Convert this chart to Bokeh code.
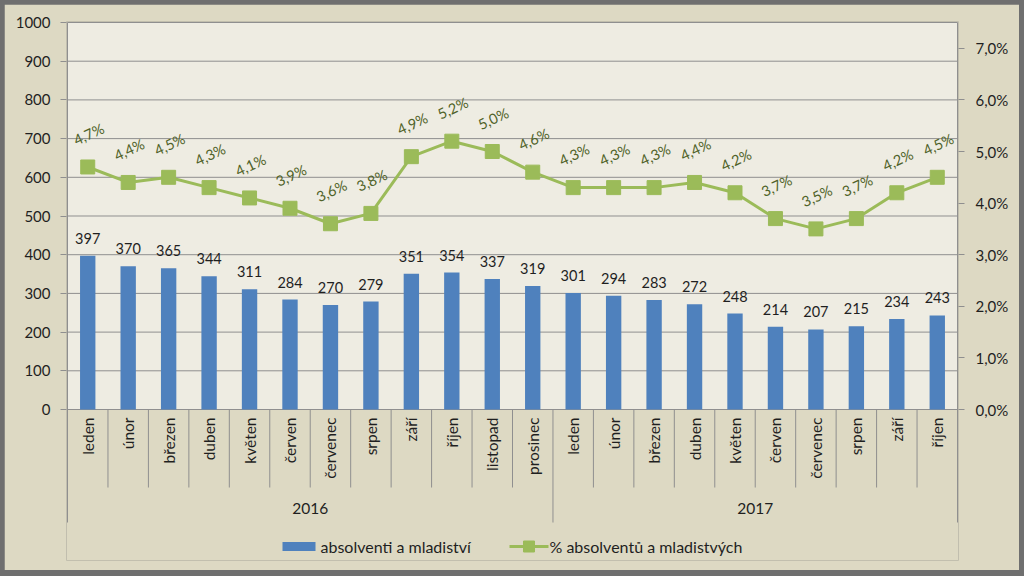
from math import pi, radians

from bokeh.plotting import figure
from bokeh.models import (Range1d, LinearAxis, FixedTicker, CustomJSTickFormatter,
                          ColumnDataSource)
from bokeh.layouts import column
from bokeh.embed import file_html
from bokeh.resources import INLINE
from bokeh.core.properties import value

# ---------------- data ----------------
years = ["2016", "2017"]
months_2016 = ["leden", "únor", "březen", "duben", "květen", "červen",
               "červenec", "srpen", "září", "říjen", "listopad", "prosinec"]
months_2017 = ["leden", "únor", "březen", "duben", "květen", "červen",
               "červenec", "srpen", "září", "říjen"]
counts_2016 = [397, 370, 365, 344, 311, 284, 270, 279, 351, 354, 337, 319]
counts_2017 = [301, 294, 283, 272, 248, 214, 207, 215, 234, 243]
pct_2016 = [4.7, 4.4, 4.5, 4.3, 4.1, 3.9, 3.6, 3.8, 4.9, 5.2, 5.0, 4.6]
pct_2017 = [4.3, 4.3, 4.3, 4.4, 4.2, 3.7, 3.5, 3.7, 4.2, 4.5]
left_ticks = [0, 100, 200, 300, 400, 500, 600, 700, 800, 900, 1000]
right_ticks = [0, 1, 2, 3, 4, 5, 6, 7]
bar_name = "absolventi a mladiství"
line_name = "% absolventů a mladistvých"

# ---------------- styling / geometry ----------------
FONT = "Lato"
TXT = "#1f1f1f"
BEIGE = "#ddd9c3"
PLOT_BG = "#eeece2"
GRID = "#8f8f8f"
BLUE = "#4f81bd"
GREEN = "#9bbb59"
DKGREEN = "#4f6228"

W, H = 1015, 566          # figure size (placed at page offset 4,4)
OFF_X, OFF_Y = 4, 4
PL, PR, PT, P0 = 67, 957, 22, 409   # plot area (page px): left, right, top(=1000), zero
FRAME_BOTTOM = 560
PCT_MAX = 7.5
VAL_MAX = 1000

months = months_2016 + months_2017
counts = counts_2016 + counts_2017
pcts = pct_2016 + pct_2017
n = len(months)
n16 = len(months_2016)
xs = [i + 0.5 for i in range(n)]

px_per_unit = (P0 - PT) / VAL_MAX
cat_px = (PR - PL) / n
pad_x = 1 / cat_px
ymax = VAL_MAX + 1 / px_per_unit
frame_top_page = PT - 1
ymin = ymax - (FRAME_BOTTOM - frame_top_page) / px_per_unit
k = PCT_MAX / VAL_MAX


def yv(page_y):
    return (P0 - page_y) / px_per_unit


def xv(page_x):
    return (page_x - PL) / cat_px


p = figure(width=W, height=H, output_backend="svg", toolbar_location=None, tools="",
           x_range=Range1d(-pad_x, n + pad_x), y_range=Range1d(ymin, ymax),
           x_axis_location=None, min_border_left=PL - 1 - OFF_X,
           min_border_right=W - (PR + 1 - OFF_X), min_border_top=frame_top_page - OFF_Y,
           min_border_bottom=H - (FRAME_BOTTOM - OFF_Y))
p.extra_y_ranges = {"pct": Range1d(ymin * k, ymax * k)}
p.background_fill_color = BEIGE
p.border_fill_color = BEIGE
p.outline_line_color = None
p.xgrid.visible = False
p.ygrid.visible = False

# left axis
ya = p.yaxis[0]
ya.ticker = FixedTicker(ticks=left_ticks)
ya.axis_line_color = None
ya.major_tick_in = 0
ya.major_tick_out = 6
ya.major_tick_line_color = GRID
ya.minor_tick_line_color = None
ya.major_label_text_font = FONT
ya.major_label_text_font_size = "15px"
ya.major_label_text_color = TXT
ya.major_label_standoff = 10

# right axis
ra = LinearAxis(y_range_name="pct", ticker=FixedTicker(ticks=right_ticks),
                formatter=CustomJSTickFormatter(code="return tick.toFixed(1).replace('.', ',') + '%';"))
ra.axis_line_color = None
ra.major_tick_in = 0
ra.major_tick_out = 6
ra.major_tick_line_color = GRID
ra.minor_tick_line_color = None
ra.major_label_text_font = FONT
ra.major_label_text_font_size = "15px"
ra.major_label_text_color = TXT
ra.major_label_standoff = 11
p.add_layout(ra, "right")

# plot area background and grid lines
p.quad(left=[0], right=[n], bottom=[0], top=[VAL_MAX], fill_color=PLOT_BG, line_color=None)
p.segment(x0=[0] * len(left_ticks), x1=[n] * len(left_ticks), y0=left_ticks, y1=left_ticks,
          line_color=GRID, line_width=1)

# category-axis separators / plot borders
short_x = [i for i in range(1, n) if i != n16]
y_short = yv(487)
y_long = yv(522)
p.segment(x0=short_x, x1=short_x, y0=[0] * len(short_x), y1=[y_short] * len(short_x),
          line_color=GRID, line_width=1)
p.segment(x0=[0, n], x1=[0, n], y0=[VAL_MAX, VAL_MAX], y1=[y_long, y_long],
          line_color=GRID, line_width=1)
p.segment(x0=[n16], x1=[n16], y0=[0], y1=[y_long], line_color=GRID, line_width=1)

src = ColumnDataSource(dict(x=xs, count=counts, pct=pcts,
                            count_lbl=[str(c) for c in counts],
                            pct_lbl=[f"{v:.1f}".replace(".", ",") + "%" for v in pcts],
                            month=months))

bars = p.vbar(x="x", top="count", width=0.38, source=src, fill_color=BLUE, line_color=None)
line_r = p.line(x="x", y="pct", source=src, y_range_name="pct", line_color=GREEN, line_width=3)
sq_r = p.scatter(x="x", y="pct", source=src, y_range_name="pct", marker="square", size=14,
                 fill_color=GREEN, line_color=GREEN)

# data labels
p.text(x="x", y="count", text="count_lbl", source=src, text_align="center",
       text_baseline="bottom", y_offset=-12, text_font=value(FONT), text_font_size="14.5px",
       text_color=TXT)
p.text(x="x", y="pct", text="pct_lbl", source=src, y_range_name="pct", text_align="center",
       text_baseline="middle", y_offset=-33, x_offset=1, angle=radians(25),
       text_font=value(FONT), text_font_size="14.5px", text_color=DKGREEN)

# category labels
p.text(x="x", y=yv(417), text="month", source=src, angle=pi / 2, text_align="right",
       text_baseline="middle", text_font=value(FONT), text_font_size="15.5px", text_color=TXT)
year_x = [n16 / 2, n16 + len(months_2017) / 2]
p.text(x=year_x, y=[yv(508)] * 2, text=years, text_align="center", text_baseline="middle",
       text_font=value(FONT), text_font_size="15.5px", text_color=TXT)

# legend (drawn as glyphs below the category axis)
ly = yv(546)
p.rect(x=[xv(298.5)], y=[ly], width=33, height=9, width_units="screen", height_units="screen",
       fill_color=BLUE, line_color=None)
p.rect(x=[xv(528.5)], y=[ly], width=39, height=3, width_units="screen", height_units="screen",
       fill_color=GREEN, line_color=None)
p.scatter(x=[xv(528.5)], y=[ly], marker="square", size=11, fill_color=GREEN, line_color=GREEN)
p.text(x=[xv(320), xv(549)], y=[ly, ly], text=[bar_name, line_name], text_align="left",
       text_baseline="middle", text_font=value(FONT), text_font_size="16px", text_color=TXT)

p.margin = (4, 5, 6, 4)
layout = column(p, styles={"background-color": "#6f6f6f"})

open("out.html", "w").write(file_html(layout, INLINE))
